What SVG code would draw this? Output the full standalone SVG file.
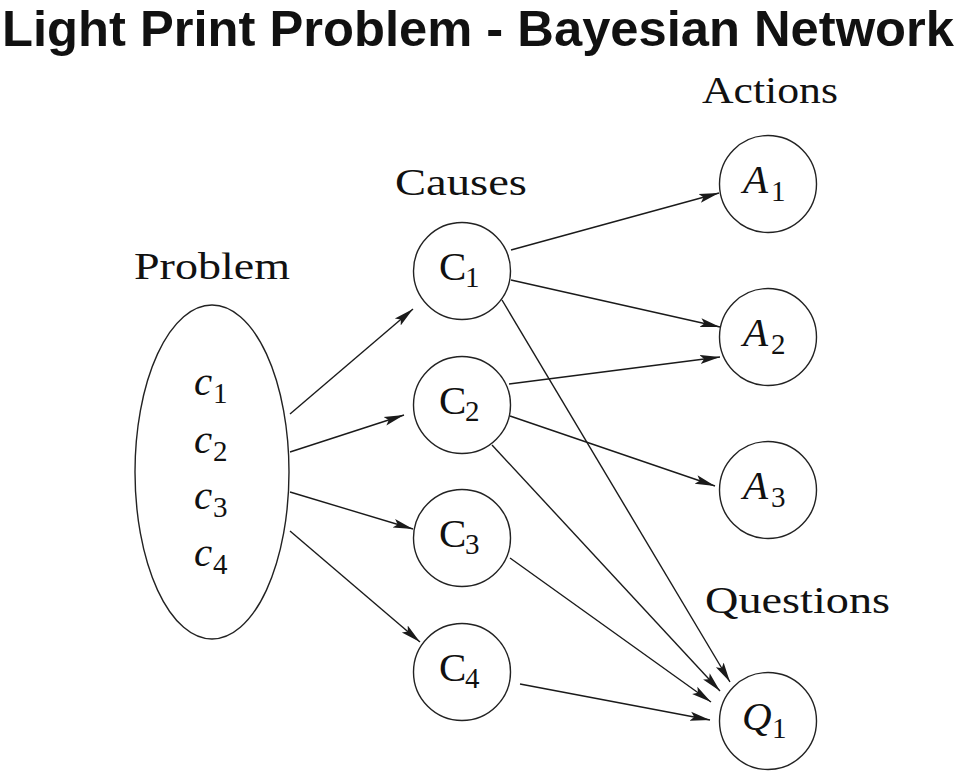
<svg xmlns="http://www.w3.org/2000/svg" width="960" height="774" viewBox="0 0 960 774">
<style>
.title{font-family:"Liberation Sans",Arial,sans-serif;font-weight:bold;font-size:50px;fill:#111}
.lbl{font-family:"Liberation Serif","Times New Roman",serif;font-size:37px;fill:#111}
.nl{font-family:"Liberation Serif","Times New Roman",serif;font-size:41px;fill:#111}
.it{font-style:italic}
.sub{font-style:normal;font-size:29px}
.node{fill:#fff;stroke:#222;stroke-width:1.4}
.edge{fill:none;stroke:#1a1a1a;stroke-width:1.4;marker-end:url(#ah)}
</style>
<defs>
<marker id="ah" markerUnits="userSpaceOnUse" markerWidth="22" markerHeight="12" viewBox="0 -6 22 12" refX="20" refY="0" orient="auto">
<path d="M0,-4.5 L20,0 L0,4.5 L4,0 Z" fill="#1a1a1a"/>
</marker>
</defs>
<rect width="960" height="774" fill="#fff"/>
<text class="title" x="2" y="46" textLength="952" lengthAdjust="spacingAndGlyphs">Light Print Problem - Bayesian Network</text>
<g id="labels">
<text class="lbl" x="134" y="279" textLength="156" lengthAdjust="spacingAndGlyphs">Problem</text>
<text class="lbl" x="395" y="195" textLength="132" lengthAdjust="spacingAndGlyphs">Causes</text>
<text class="lbl" x="702" y="103" textLength="136" lengthAdjust="spacingAndGlyphs">Actions</text>
<text class="lbl" x="705" y="613" textLength="185" lengthAdjust="spacingAndGlyphs">Questions</text>
</g>
<g id="connectors">
<line class="edge" x1="290" y1="414" x2="413" y2="309"/>
<line class="edge" x1="290" y1="452" x2="404" y2="415"/>
<line class="edge" x1="290" y1="492" x2="413" y2="529"/>
<line class="edge" x1="290" y1="531" x2="420" y2="642"/>
<line class="edge" x1="511" y1="250" x2="719" y2="193"/>
<line class="edge" x1="511" y1="280" x2="720" y2="327"/>
<line class="edge" x1="502" y1="300" x2="730" y2="682"/>
<line class="edge" x1="509" y1="384" x2="720" y2="357"/>
<line class="edge" x1="510" y1="416" x2="715" y2="486"/>
<line class="edge" x1="492" y1="445" x2="720" y2="691"/>
<line class="edge" x1="510" y1="558" x2="711" y2="702"/>
<line class="edge" x1="520" y1="684" x2="710" y2="720"/>
</g>
<g id="problem">
<ellipse class="node" cx="212" cy="472" rx="77" ry="167"/>
<text class="nl it" x="194" y="395">c<tspan class="sub" x="213" y="403">1</tspan></text>
<text class="nl it" x="194" y="453">c<tspan class="sub" x="213" y="461">2</tspan></text>
<text class="nl it" x="194" y="509">c<tspan class="sub" x="213" y="517">3</tspan></text>
<text class="nl it" x="194" y="566">c<tspan class="sub" x="213" y="574">4</tspan></text>
</g>
<g id="C1"><circle class="node" cx="462" cy="271" r="48.5"/><text class="nl" x="439" y="280">C<tspan class="sub" x="465" y="287">1</tspan></text></g>
<g id="C2"><circle class="node" cx="462" cy="405" r="48.5"/><text class="nl" x="439" y="414">C<tspan class="sub" x="465" y="421">2</tspan></text></g>
<g id="C3"><circle class="node" cx="462" cy="538" r="48.5"/><text class="nl" x="439" y="547">C<tspan class="sub" x="465" y="554">3</tspan></text></g>
<g id="C4"><circle class="node" cx="462" cy="672" r="48.5"/><text class="nl" x="439" y="681">C<tspan class="sub" x="465" y="688">4</tspan></text></g>
<g id="A1"><circle class="node" cx="768" cy="184" r="48.5"/><text class="nl it" x="743" y="193">A<tspan class="sub" x="771" y="201">1</tspan></text></g>
<g id="A2"><circle class="node" cx="768" cy="337" r="48.5"/><text class="nl it" x="743" y="346">A<tspan class="sub" x="771" y="354">2</tspan></text></g>
<g id="A3"><circle class="node" cx="768" cy="490" r="48.5"/><text class="nl it" x="743" y="499">A<tspan class="sub" x="771" y="507">3</tspan></text></g>
<g id="Q1"><circle class="node" cx="768" cy="721" r="48.5"/><text class="nl it" x="742" y="730">Q<tspan class="sub" x="772" y="738">1</tspan></text></g>
</svg>
